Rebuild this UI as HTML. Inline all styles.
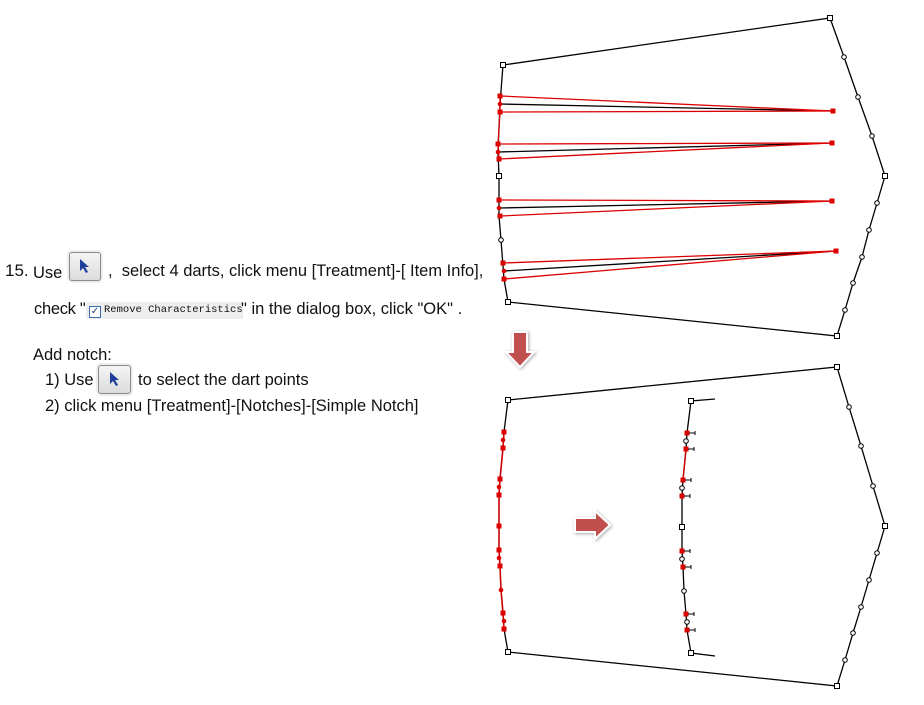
<!DOCTYPE html>
<html><head><meta charset="utf-8"><style>
body{margin:0;width:924px;height:705px;background:#fff;position:relative;overflow:hidden;font-family:"Liberation Sans","Noto Sans CJK SC",sans-serif;color:#111;}
.t{position:absolute;font-size:16.5px;white-space:nowrap;line-height:18px;}
.btn{position:absolute;border:1px solid #8a8a8a;border-radius:3px;background:linear-gradient(#f4f4f4,#dcdcdc);box-shadow:0 0 0 2px #eee;}
.lbl{position:absolute;background:#eeeeee;font-family:"Liberation Mono",monospace;font-size:10.5px;line-height:17px;}
</style></head><body>
<div class="t" style="left:5px;top:262px;font-size:17px">15.</div>
<div class="t" style="left:33px;top:264px">Use</div>
<div class="btn" style="left:69px;top:252px;width:30px;height:27px"></div>
<svg style="position:absolute;left:78px;top:258px" width="12" height="16"><path d="M2 1 L2 13 L5 10 L8 15 L10 14 L7 9 L11 9 Z" fill="#1f3f9a"/></svg>
<div class="t" style="left:108px;top:262px">,&nbsp; select 4 darts, click menu [Treatment]-[ Item Info],</div>
<div class="lbl" style="left:86px;top:302px;width:157px;height:17px">
<span style="display:inline-block;width:10px;height:10px;border:1px solid #3a6ab0;background:#fff;margin:0 3px 0 3px;vertical-align:-2px;position:relative;font-size:10px;line-height:10px;color:#1f3f9a;text-align:center;font-family:'DejaVu Sans',sans-serif">✓</span>Remove Characteristics</div>
<div class="t" style="left:34px;top:300px;letter-spacing:-0.3px">check "</div>
<div class="t" style="left:241px;top:300px">" in the dialog box, click "OK" .</div>
<div class="t" style="left:33px;top:346px">Add notch:</div>
<div class="t" style="left:45px;top:371px">1) Use</div>
<div class="btn" style="left:98px;top:365px;width:31px;height:27px"></div>
<svg style="position:absolute;left:108px;top:371px" width="12" height="16"><path d="M2 1 L2 13 L5 10 L8 15 L10 14 L7 9 L11 9 Z" fill="#1f3f9a"/></svg>
<div class="t" style="left:138px;top:371px">to select the dart points</div>
<div class="t" style="left:45px;top:397px">2) click menu [Treatment]-[Notches]-[Simple Notch]</div>

<svg style="position:absolute;left:0;top:0" width="924" height="705">
<defs><filter id="sh" x="-30%" y="-30%" width="160%" height="160%"><feDropShadow dx="1" dy="1" stdDeviation="1.5" flood-color="#000" flood-opacity="0.35"/></filter></defs>
<g fill="none" stroke="#000" stroke-width="1.3">
<polyline points="503,65 830,18 844,57 858,97 872,136 885,176 877,203 869,230 862,257 853,283 845,310 837,336 508,302 504,279 501,240 499,216 499,176 498,152 500,104 503,65"/>
<line x1="500" y1="104" x2="833" y2="111"/><line x1="498" y1="152" x2="832" y2="143"/>
<line x1="499" y1="208" x2="832" y2="201"/><line x1="504" y1="271" x2="836" y2="251"/>
</g>
<g fill="none" stroke="#d00" stroke-width="1.3">
<line x1="500" y1="96" x2="833" y2="111"/><line x1="500" y1="112" x2="833" y2="111"/>
<line x1="498" y1="144" x2="832" y2="143"/><line x1="499" y1="159" x2="832" y2="143"/>
<line x1="499" y1="200" x2="832" y2="201"/><line x1="500" y1="216" x2="832" y2="201"/>
<line x1="503" y1="263" x2="836" y2="251"/><line x1="504" y1="279" x2="836" y2="251"/>
<polyline points="500,96 500,112 498,144 499,159"/>
</g>
<g fill="#d00">
<rect x="497.5" y="93.5" width="5" height="5"/><rect x="497.5" y="109.5" width="5" height="5"/><circle cx="500" cy="104" r="2.3"/>
<rect x="495.5" y="141.5" width="5" height="5"/><rect x="496.5" y="156.5" width="5" height="5"/><circle cx="498" cy="152" r="2.3"/>
<rect x="496.5" y="197.5" width="5" height="5"/><rect x="497.5" y="213.5" width="5" height="5"/><circle cx="499" cy="208" r="2.3"/>
<rect x="500.5" y="260.5" width="5" height="5"/><rect x="501.5" y="276.5" width="5" height="5"/><circle cx="504" cy="271" r="2.3"/>
<rect x="830.5" y="108.5" width="5" height="5"/><rect x="829.5" y="140.5" width="5" height="5"/><rect x="829.5" y="198.5" width="5" height="5"/><rect x="833.5" y="248.5" width="5" height="5"/>
</g>
<g fill="#fff" stroke="#000" stroke-width="1">
<rect x="500.5" y="62.5" width="5" height="5"/><rect x="827.5" y="15.5" width="5" height="5"/><rect x="882.5" y="173.5" width="5" height="5"/><rect x="834.5" y="333.5" width="5" height="5"/><rect x="505.5" y="299.5" width="5" height="5"/><rect x="496.5" y="173.5" width="5" height="5"/>
<circle cx="844" cy="57" r="2.3"/><circle cx="858" cy="97" r="2.3"/><circle cx="872" cy="136" r="2.3"/><circle cx="877" cy="203" r="2.3"/><circle cx="869" cy="230" r="2.3"/><circle cx="862" cy="257" r="2.3"/><circle cx="853" cy="283" r="2.3"/><circle cx="845" cy="310" r="2.3"/><circle cx="501" cy="240" r="2.3"/>
</g>

<g fill="none" stroke="#000" stroke-width="1.3">
<polyline points="508,400 837,367 849,407 861,446 873,486 885,526 877,553 869,580 861,607 853,633 845,660 837,686 508,652 504,629"/>
<line x1="508" y1="400" x2="504" y2="432"/>
<polyline points="715,399 691,401 687,433 686,449 683,480 682,496 682,527 682,551 683,567 684,591 686,614 687,630 691,653 715,656"/>
</g>
<polyline fill="none" stroke="#c00" stroke-width="1.6" points="504,432 503,448 500,479 499,495 499,526 499,550 500,566 501,590 503,613 504,629"/>
<polyline fill="none" stroke="#c00" stroke-width="1.4" points="686,449 683,480"/>
<g fill="#d00">
<rect x="501.5" y="429.5" width="5" height="5"/><circle cx="503" cy="440" r="2.3"/><rect x="500.5" y="445.5" width="5" height="5"/>
<rect x="497.5" y="476.5" width="5" height="5"/><circle cx="499" cy="487" r="2.3"/><rect x="496.5" y="492.5" width="5" height="5"/>
<rect x="496.5" y="523.5" width="5" height="5"/>
<rect x="496.5" y="547.5" width="5" height="5"/><circle cx="499" cy="558" r="2.3"/><rect x="497.5" y="563.5" width="5" height="5"/>
<circle cx="501" cy="590" r="2.3"/>
<rect x="500.5" y="610.5" width="5" height="5"/><circle cx="504" cy="621" r="2.3"/><rect x="501.5" y="626.5" width="5" height="5"/>
<rect x="684.5" y="430.5" width="5" height="5"/><rect x="683.5" y="446.5" width="5" height="5"/><rect x="680.5" y="477.5" width="5" height="5"/><rect x="679.5" y="493.5" width="5" height="5"/><rect x="679.5" y="548.5" width="5" height="5"/><rect x="680.5" y="564.5" width="5" height="5"/><rect x="683.5" y="611.5" width="5" height="5"/><rect x="684.5" y="627.5" width="5" height="5"/>
</g>
<g stroke="#000" stroke-width="1">
<path d="M689 433h6m0-2v4M688 449h6m0-2v4M685 480h6m0-2v4M684 496h6m0-2v4M684 551h6m0-2v4M685 567h6m0-2v4M688 614h6m0-2v4M689 630h6m0-2v4"/>
</g>
<g fill="#fff" stroke="#000" stroke-width="1">
<rect x="505.5" y="397.5" width="5" height="5"/><rect x="834.5" y="364.5" width="5" height="5"/><rect x="882.5" y="523.5" width="5" height="5"/><rect x="834.5" y="683.5" width="5" height="5"/><rect x="505.5" y="649.5" width="5" height="5"/>
<rect x="688.5" y="398.5" width="5" height="5"/><rect x="688.5" y="650.5" width="5" height="5"/><rect x="679.5" y="524.5" width="5" height="5"/>
<circle cx="849" cy="407" r="2.3"/><circle cx="861" cy="446" r="2.3"/><circle cx="873" cy="486" r="2.3"/><circle cx="877" cy="553" r="2.3"/><circle cx="869" cy="580" r="2.3"/><circle cx="861" cy="607" r="2.3"/><circle cx="853" cy="633" r="2.3"/><circle cx="845" cy="660" r="2.3"/>
<circle cx="686" cy="441" r="2.3"/><circle cx="682" cy="488" r="2.3"/><circle cx="682" cy="559" r="2.3"/><circle cx="684" cy="591" r="2.3"/><circle cx="687" cy="622" r="2.3"/>
</g>
<path d="M513 332 h14 v20 h7 l-14 15 l-14 -15 h7 z" fill="#c0504d" stroke="#fff" stroke-width="2" filter="url(#sh)"/>
<path d="M575 518 h20 v-7 l15 14 l-15 14 v-7 h-20 z" fill="#c0504d" stroke="#fff" stroke-width="2" filter="url(#sh)"/>
</svg>
</body></html>
